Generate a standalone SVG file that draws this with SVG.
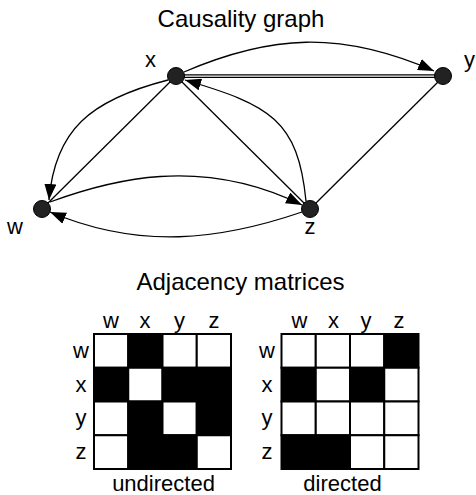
<svg xmlns="http://www.w3.org/2000/svg" width="476" height="495" viewBox="0 0 476 495">
  <style>
    text { font-family: "Liberation Sans", Arial, sans-serif; fill: #000; }
    .title { font-size: 24px; text-anchor: middle; }
    .lbl { font-size: 22px; }
    .mid { text-anchor: middle; }
    .edge { fill: none; stroke: #000; stroke-width: 1.3; }
    .arrow { marker-end: url(#head); }
    .node { fill: #222; stroke: #000; stroke-width: 1; }
    .cell { stroke: #000; stroke-width: 2; }
    .on { fill: #000; }
    .off { fill: #fff; }
  </style>
  <defs>
    <marker id="head" markerUnits="userSpaceOnUse" markerWidth="18" markerHeight="12" refX="16" refY="6" orient="auto">
      <path d="M0,0 L16,6 L0,12 z" fill="#000"/>
    </marker>
  </defs>

  <rect width="476" height="495" fill="#fff"/>

  <text class="title" x="241" y="27">Causality graph</text>

  <!-- edges of the causality graph -->
  <g id="connectors">
    <path class="edge arrow" d="M184,72 C270,35 340,30 434,71"/>
    <line class="edge" x1="184" y1="74.8" x2="435" y2="74.8"/>
    <line class="edge" x1="184" y1="77.4" x2="435" y2="77.4"/>
    <path class="edge arrow" d="M168,80 C90,100 55,130 49,200"/>
    <line class="edge" x1="170" y1="82" x2="47" y2="204"/>
    <line class="edge" x1="182" y1="82" x2="304" y2="203"/>
    <path class="edge arrow" d="M306,201 C298,120 270,105 185,80"/>
    <line class="edge" x1="438" y1="82" x2="316" y2="203"/>
    <path class="edge arrow" d="M50,202 C110,180 200,155 302,205"/>
    <path class="edge arrow" d="M302,212 C220,240 140,250 50,212"/>
  </g>

  <g id="node-x">
    <circle class="node" cx="176" cy="76" r="8.5"/>
    <text class="lbl mid" x="150.5" y="67">x</text>
  </g>
  <g id="node-y">
    <circle class="node" cx="443" cy="76" r="8.5"/>
    <text class="lbl" x="464" y="67">y</text>
  </g>
  <g id="node-w">
    <circle class="node" cx="42" cy="209" r="8.5"/>
    <text class="lbl mid" x="15" y="234">w</text>
  </g>
  <g id="node-z">
    <circle class="node" cx="310" cy="209" r="8.5"/>
    <text class="lbl mid" x="310" y="234">z</text>
  </g>

  <text class="title" x="240.5" y="290">Adjacency matrices</text>

  <!-- undirected adjacency matrix -->
  <g id="matrix-undirected">
    <text class="lbl mid" x="111" y="328">w</text>
    <text class="lbl mid" x="145" y="328">x</text>
    <text class="lbl mid" x="179.5" y="328">y</text>
    <text class="lbl mid" x="214" y="328">z</text>
    <text class="lbl mid" x="81" y="358">w</text>
    <text class="lbl mid" x="81" y="392">x</text>
    <text class="lbl mid" x="81" y="425">y</text>
    <text class="lbl mid" x="81" y="459">z</text>
    <rect class="cell off" x="94" y="334" width="34.25" height="33.75"/>
    <rect class="cell on" x="128.25" y="334" width="34.25" height="33.75"/>
    <rect class="cell off" x="162.5" y="334" width="34.25" height="33.75"/>
    <rect class="cell off" x="196.75" y="334" width="34.25" height="33.75"/>
    <rect class="cell on" x="94" y="367.75" width="34.25" height="33.75"/>
    <rect class="cell off" x="128.25" y="367.75" width="34.25" height="33.75"/>
    <rect class="cell on" x="162.5" y="367.75" width="34.25" height="33.75"/>
    <rect class="cell on" x="196.75" y="367.75" width="34.25" height="33.75"/>
    <rect class="cell off" x="94" y="401.5" width="34.25" height="33.75"/>
    <rect class="cell on" x="128.25" y="401.5" width="34.25" height="33.75"/>
    <rect class="cell off" x="162.5" y="401.5" width="34.25" height="33.75"/>
    <rect class="cell on" x="196.75" y="401.5" width="34.25" height="33.75"/>
    <rect class="cell off" x="94" y="435.25" width="34.25" height="33.75"/>
    <rect class="cell on" x="128.25" y="435.25" width="34.25" height="33.75"/>
    <rect class="cell on" x="162.5" y="435.25" width="34.25" height="33.75"/>
    <rect class="cell off" x="196.75" y="435.25" width="34.25" height="33.75"/>
    <text class="lbl mid" x="163.5" y="491">undirected</text>
  </g>

  <!-- directed adjacency matrix -->
  <g id="matrix-directed">
    <text class="lbl mid" x="299.5" y="328">w</text>
    <text class="lbl mid" x="333.5" y="328">x</text>
    <text class="lbl mid" x="366" y="328">y</text>
    <text class="lbl mid" x="399" y="328">z</text>
    <text class="lbl mid" x="267" y="358">w</text>
    <text class="lbl mid" x="267" y="392">x</text>
    <text class="lbl mid" x="267" y="425">y</text>
    <text class="lbl mid" x="267" y="459">z</text>
    <rect class="cell off" x="281.5" y="334" width="34.25" height="33.75"/>
    <rect class="cell off" x="315.75" y="334" width="34.25" height="33.75"/>
    <rect class="cell off" x="350" y="334" width="34.25" height="33.75"/>
    <rect class="cell on" x="384.25" y="334" width="34.25" height="33.75"/>
    <rect class="cell on" x="281.5" y="367.75" width="34.25" height="33.75"/>
    <rect class="cell off" x="315.75" y="367.75" width="34.25" height="33.75"/>
    <rect class="cell on" x="350" y="367.75" width="34.25" height="33.75"/>
    <rect class="cell off" x="384.25" y="367.75" width="34.25" height="33.75"/>
    <rect class="cell off" x="281.5" y="401.5" width="34.25" height="33.75"/>
    <rect class="cell off" x="315.75" y="401.5" width="34.25" height="33.75"/>
    <rect class="cell off" x="350" y="401.5" width="34.25" height="33.75"/>
    <rect class="cell off" x="384.25" y="401.5" width="34.25" height="33.75"/>
    <rect class="cell on" x="281.5" y="435.25" width="34.25" height="33.75"/>
    <rect class="cell on" x="315.75" y="435.25" width="34.25" height="33.75"/>
    <rect class="cell off" x="350" y="435.25" width="34.25" height="33.75"/>
    <rect class="cell off" x="384.25" y="435.25" width="34.25" height="33.75"/>
    <text class="lbl mid" x="342.5" y="491">directed</text>
  </g>
</svg>
